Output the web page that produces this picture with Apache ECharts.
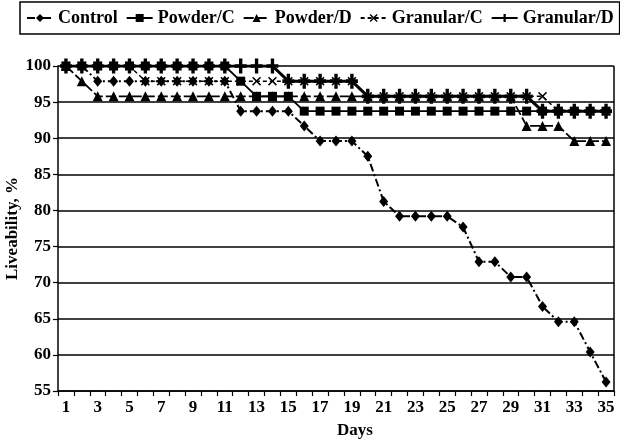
<!DOCTYPE html>
<html>
<head>
<meta charset="utf-8">
<script src="https://cdn.jsdelivr.net/npm/echarts@6/dist/echarts.min.js"></script>
<style>
html,body{margin:0;padding:0;background:#fff;}
#chart{width:620px;height:439px;}
</style>
</head>
<body>
<div id="chart"></div>
<script>
var days = ['1','2','3','4','5','6','7','8','9','10','11','12','13','14','15','16','17','18','19','20','21','22','23','24','25','26','27','28','29','30','31','32','33','34','35'];
var yTicks = [55,60,65,70,75,80,85,90,95,100];
var control = [100,100,97.9,97.9,97.9,97.9,97.9,97.9,97.9,97.9,97.9,93.75,93.75,93.75,93.75,91.7,89.6,89.6,89.6,87.5,81.25,79.2,79.2,79.2,79.2,77.7,72.9,72.9,70.8,70.8,66.7,64.6,64.6,60.4,56.25];
var powderC = [100,100,100,100,100,100,100,100,100,100,100,97.9,95.8,95.8,95.8,93.75,93.75,93.75,93.75,93.75,93.75,93.75,93.75,93.75,93.75,93.75,93.75,93.75,93.75,93.75,93.75,93.75,93.75,93.75,93.75];
var powderD = [100,97.9,95.8,95.8,95.8,95.8,95.8,95.8,95.8,95.8,95.8,95.8,95.8,95.8,95.8,95.8,95.8,95.8,95.8,95.8,95.8,95.8,95.8,95.8,95.8,95.8,95.8,95.8,95.8,91.7,91.7,91.7,89.6,89.6,89.6];
var granularC = [100,100,100,100,100,97.9,97.9,97.9,97.9,97.9,97.9,97.9,97.9,97.9,97.9,97.9,97.9,97.9,97.9,95.8,95.8,95.8,95.8,95.8,95.8,95.8,95.8,95.8,95.8,95.8,95.8,93.75,93.75,93.75,93.75];
var granularD = [100,100,100,100,100,100,100,100,100,100,100,100,100,100,97.9,97.9,97.9,97.9,97.9,95.8,95.8,95.8,95.8,95.8,95.8,95.8,95.8,95.8,95.8,95.8,93.75,93.75,93.75,93.75,93.75];
var names = ['Control','Powder/C','Powder/D','Granular/C','Granular/D'];

var FONT = 'Liberation Serif';
var plusPath = 'path://M3.6,0H6.4V3.8H10V6.2H6.4V10H3.6V6.2H0V3.8H3.6Z';
var xPath = 'path://M0,1.2L1.2,0L5,3.8L8.8,0L10,1.2L6.2,5L10,8.8L8.8,10L5,6.2L1.2,10L0,8.8L3.8,5Z';

function mk(name, data, symbol, size, lineType, width) {
  return {
    name: name, type: 'line', data: data,
    symbol: symbol, symbolSize: size, showAllSymbol: true,
    itemStyle: {color: '#000'},
    lineStyle: {color: '#000', width: width, type: lineType},
    emphasis: {disabled: true},
    animation: false
  };
}

var chart = echarts.init(document.getElementById('chart'), null, {renderer: 'canvas'});
chart.setOption({
  backgroundColor: '#fff',
  animation: false,
  legend: {
    data: names,
    left: 20, top: 2,
    padding: [7, 6, 7, 6],
    itemGap: 8, itemWidth: 26, itemHeight: 10,
    borderColor: '#000', borderWidth: 1.5,
    textStyle: {fontFamily: FONT, fontWeight: 'bold', fontSize: 18, color: '#000'}
  },
  grid: {left: 58, right: 6, top: 66, bottom: 48, containLabel: false, outerBoundsMode: 'none'},
  xAxis: {
    type: 'category', data: days, boundaryGap: true,
    name: 'Days', nameLocation: 'middle', nameGap: 31, nameMoveOverlap: false,
    nameTextStyle: {fontFamily: FONT, fontWeight: 'bold', fontSize: 17, color: '#000', padding: [0,0,0,38]},
    axisLine: {lineStyle: {color: '#000', width: 1.5}},
    axisTick: {show: true, interval: 0, length: 5, lineStyle: {color: '#000', width: 1.2}},
    axisLabel: {interval: 1, fontFamily: FONT, fontWeight: 'bold', fontSize: 17, color: '#000', margin: 8},
    splitLine: {show: false}
  },
  yAxis: {
    type: 'value', min: yTicks[0], max: yTicks[yTicks.length-1], interval: 5,
    name: 'Liveability, %', nameLocation: 'middle', nameGap: 37, nameRotate: 90, nameMoveOverlap: false,
    nameTextStyle: {fontFamily: FONT, fontWeight: 'bold', fontSize: 17, color: '#000'},
    axisLine: {show: true, lineStyle: {color: '#000', width: 1.5}},
    axisTick: {show: true, length: 5, lineStyle: {color: '#000', width: 1.2}},
    axisLabel: {fontFamily: FONT, fontWeight: 'bold', fontSize: 17, color: '#000', margin: 7},
    splitLine: {show: true, lineStyle: {color: '#000', width: 1.5}}
  },
  series: [
    mk(names[0], control, 'diamond', [9, 11], [8, 3, 2, 3], 2),
    mk(names[1], powderC, 'rect', 9, 'solid', 1.8),
    mk(names[2], powderD, 'triangle', 10, [10, 3], 1.8),
    mk(names[3], granularC, xPath, 9, [4, 3], 1.5),
    mk(names[4], granularD, plusPath, [12, 15], 'solid', 3)
  ],
  graphic: [{
    type: 'line', shape: {x1: 614, y1: 66, x2: 614, y2: 391}, style: {stroke: '#000', lineWidth: 1.5}, silent: true
  }]
});
</script>
</body>
</html>
